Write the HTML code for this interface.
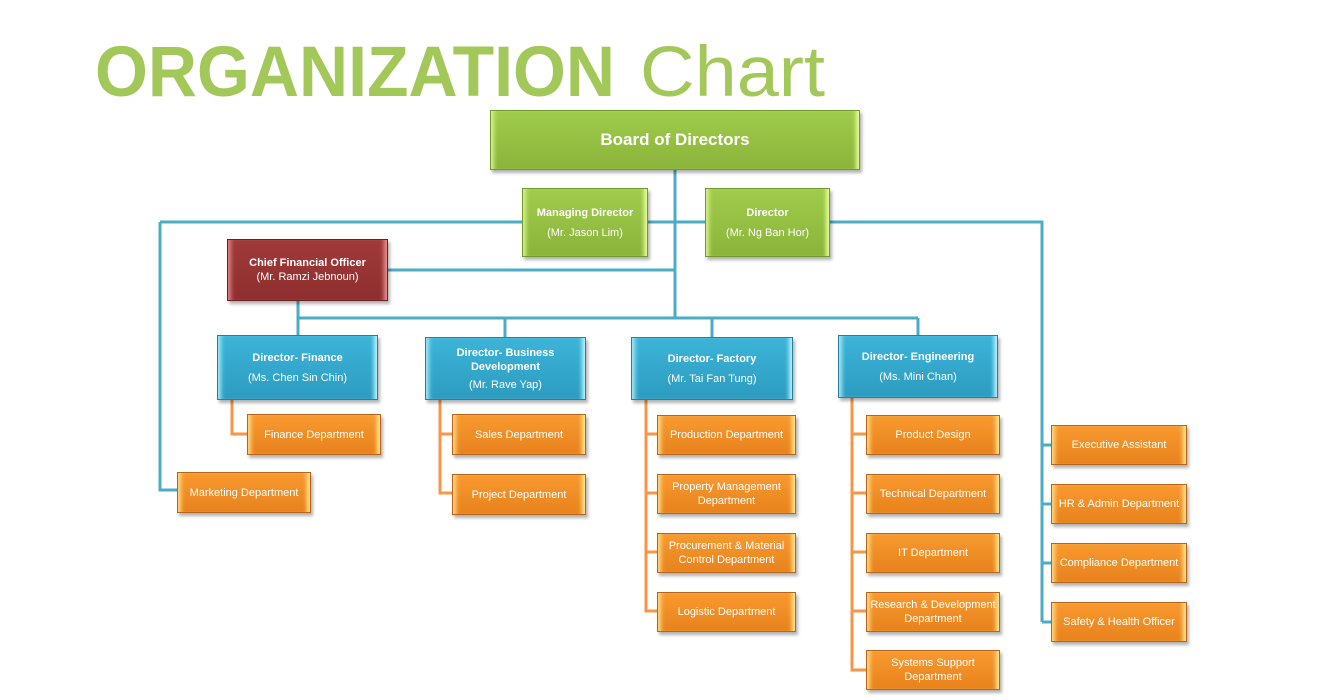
<!DOCTYPE html>
<html><head><meta charset="utf-8"><style>
body{margin:0;width:1338px;height:700px;background:#fff;position:relative;overflow:hidden;font-family:"Liberation Sans",sans-serif}
.b{position:absolute;box-sizing:border-box;color:#fff;text-align:center;display:flex;flex-direction:column;justify-content:center;align-items:center;font-size:11px;line-height:14px;box-shadow:2px 3px 3px rgba(0,0,0,.3)}
.g{background:linear-gradient(#a0cc4c,#8ab43a);border:1px solid #6f9a2e;box-shadow:inset 6px 0 4px -3px #d8f08a,inset -6px 0 4px -3px #e8ff9a,2px 3px 3px rgba(0,0,0,.3)}
.r{background:linear-gradient(#a03a3a,#8e2e2e);border:1px solid #6e2020;box-shadow:inset 6px 0 4px -3px #e08080,inset -6px 0 4px -3px #f09090,2px 3px 3px rgba(0,0,0,.3)}
.c{background:linear-gradient(#3cb4d8,#2c9cc0);border:1px solid #2a7f9c;box-shadow:inset 6px 0 4px -3px #a0e8f8,inset -6px 0 4px -3px #b8f4ff,2px 3px 3px rgba(0,0,0,.3)}
.o{background:linear-gradient(#f89a30,#e8821c);border:1px solid #b8641a;box-shadow:inset 6px 0 4px -3px #ffd880,inset -6px 0 4px -3px #ffe890,2px 3px 3px rgba(0,0,0,.3)}
.t b{font-weight:bold}
</style></head><body>
<svg width="1338" height="700" style="position:absolute;left:0;top:0">
<text x="95" y="96" font-family="Liberation Sans" font-weight="bold" font-size="71" fill="#a3c85a" textLength="520" lengthAdjust="spacingAndGlyphs">ORGANIZATION</text>
<text x="640" y="96" font-family="Liberation Sans" font-size="71" fill="#a3c85a" textLength="185" lengthAdjust="spacingAndGlyphs">Chart</text>
<g stroke="#4bacc6" stroke-width="3" fill="none">
<path d="M675 170V318"/>
<path d="M160 222H522M648 222H705M830 222H1042V622"/>
<path d="M160 222V490H177"/>
<path d="M388 270H675"/>
<path d="M298 301V335M298 318H918M505 318V337M712 318V337M918 318V335"/>
<path d="M1042 445H1051M1042 504H1051M1042 563H1051M1042 622H1051"/>
</g>
<g stroke="#f79646" stroke-width="3" fill="none">
<path d="M232 400V434H247"/>
<path d="M440 400V493H452M440 434H452"/>
<path d="M646 400V611H657M646 434H657M646 493H657M646 552H657"/>
<path d="M852 398V670H866M852 434H866M852 493H866M852 552H866M852 611H866"/>
</g>
</svg>
<div class="b g" style="left:490px;top:110px;width:370px;height:60px;font-size:17px;font-weight:bold">Board of Directors</div>
<div class="b g" style="left:522px;top:188px;width:126px;height:69px"><b>Managing Director</b><span style="margin-top:6px">(Mr. Jason Lim)</span></div>
<div class="b g" style="left:705px;top:188px;width:125px;height:69px"><b>Director</b><span style="margin-top:6px">(Mr. Ng Ban Hor)</span></div>
<div class="b r" style="left:227px;top:239px;width:161px;height:62px"><b>Chief Financial Officer</b><span>(Mr. Ramzi Jebnoun)</span></div>
<div class="b c" style="left:217px;top:335px;width:161px;height:65px"><b>Director- Finance</b><span style="margin-top:6px">(Ms. Chen Sin Chin)</span></div>
<div class="b c" style="left:425px;top:337px;width:161px;height:63px"><b>Director- Business<br>Development</b><span style="margin-top:4px">(Mr. Rave Yap)</span></div>
<div class="b c" style="left:631px;top:337px;width:162px;height:63px"><b>Director- Factory</b><span style="margin-top:6px">(Mr. Tai Fan Tung)</span></div>
<div class="b c" style="left:838px;top:335px;width:160px;height:63px"><b>Director- Engineering</b><span style="margin-top:6px">(Ms. Mini Chan)</span></div>
<div class="b o" style="left:247px;top:414px;width:134px;height:41px">Finance Department</div>
<div class="b o" style="left:177px;top:472px;width:134px;height:41px">Marketing Department</div>
<div class="b o" style="left:452px;top:414px;width:134px;height:41px">Sales Department</div>
<div class="b o" style="left:452px;top:474px;width:134px;height:41px">Project Department</div>
<div class="b o" style="left:657px;top:415px;width:139px;height:40px">Production Department</div>
<div class="b o" style="left:657px;top:474px;width:139px;height:40px">Property Management<br>Department</div>
<div class="b o" style="left:657px;top:533px;width:139px;height:40px">Procurement &amp; Material<br>Control Department</div>
<div class="b o" style="left:657px;top:592px;width:139px;height:40px">Logistic Department</div>
<div class="b o" style="left:866px;top:415px;width:134px;height:40px">Product Design</div>
<div class="b o" style="left:866px;top:474px;width:134px;height:40px">Technical Department</div>
<div class="b o" style="left:866px;top:533px;width:134px;height:40px">IT Department</div>
<div class="b o" style="left:866px;top:592px;width:134px;height:40px">Research &amp; Development<br>Department</div>
<div class="b o" style="left:866px;top:650px;width:134px;height:40px">Systems Support<br>Department</div>
<div class="b o" style="left:1051px;top:425px;width:136px;height:40px">Executive Assistant</div>
<div class="b o" style="left:1051px;top:484px;width:136px;height:40px">HR &amp; Admin Department</div>
<div class="b o" style="left:1051px;top:543px;width:136px;height:40px">Compliance Department</div>
<div class="b o" style="left:1051px;top:602px;width:136px;height:40px">Safety &amp; Health Officer</div>
</body></html>
